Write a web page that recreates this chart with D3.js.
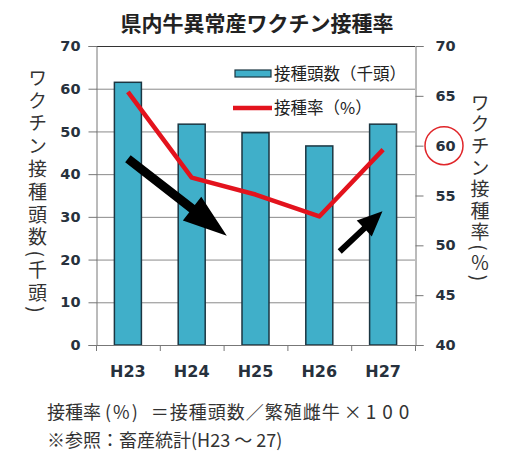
<!DOCTYPE html>
<html>
<head>
<meta charset="utf-8">
<script src="https://cdn.jsdelivr.net/npm/d3@7"></script>
<style>
  body { margin: 0; background: #fff; }
  svg { display: block; }
  .jp { font-family: "Noto Sans CJK JP", sans-serif; }
  .num { font-family: "DejaVu Sans", sans-serif; font-weight: bold; fill: #27313d; }
</style>
</head>
<body>
<svg id="chart" width="512" height="451"></svg>
<script>
// data
const years = ['H23', 'H24', 'H25', 'H26', 'H27'];
const headCount = [61.5, 51.7, 49.7, 46.6, 51.7]; // 接種頭数 (千頭)
const rate = [65.4, 56.8, 55.1, 52.9, 59.6];      // 接種率 (%)
const leftTicks = [0, 10, 20, 30, 40, 50, 60, 70];
const rightTicks = [40, 45, 50, 55, 60, 65, 70];
const circledTick = 60;

// annotation arrows as [category index, left axis value]
const arrowFrom = [[0, 43.6], [3.32, 21.9]];
const arrowTo = [[1.55, 25.6], [3.99, 31.3]];

const svg = d3.select('#chart');
const plotL = 96, plotR = 415, plotT = 46, plotB = 345;

const x = d3.scaleBand().domain(years).range([plotL, plotR]).paddingInner(0).paddingOuter(0);
const yL = d3.scaleLinear().domain([0, 70]).range([plotB, plotT]);
const yR = d3.scaleLinear().domain([40, 70]).range([plotB, plotT]);
const xIdx = (i) => x(years[0]) + x.bandwidth() / 2 + i * x.step();

// title
svg.append('text')
  .attr('class', 'jp')
  .attr('x', 257).attr('y', 31)
  .attr('text-anchor', 'middle')
  .attr('font-size', 21).attr('font-weight', 'bold').attr('fill', '#222')
  .text('県内牛異常産ワクチン接種率');

// gridlines
svg.append('g')
  .selectAll('line')
  .data(leftTicks.filter((d) => d > 0))
  .join('line')
  .attr('x1', plotL).attr('x2', plotR)
  .attr('y1', (d) => yL(d) + 0.5).attr('y2', (d) => yL(d) + 0.5)
  .attr('stroke', (d) => (d === 70 ? '#333' : '#8a8a8a'))
  .attr('stroke-width', 1);

// left axis
const gL = svg.append('g').attr('transform', `translate(${plotL + 0.5},0)`)
  .call(d3.axisLeft(yL).tickValues(leftTicks).tickSize(8).tickPadding(8));
gL.select('.domain').attr('stroke', '#777');
gL.selectAll('.tick line').attr('stroke', '#777');
gL.selectAll('.tick text').attr('class', 'num').attr('font-size', 14.5);

// right axis
const gR = svg.append('g').attr('transform', `translate(${plotR + 0.5},0)`)
  .call(d3.axisRight(yR).tickValues(rightTicks).tickSize(8).tickPadding(12));
gR.select('.domain').attr('stroke', '#777');
gR.selectAll('.tick line').attr('stroke', '#777');
gR.selectAll('.tick text').attr('class', 'num').attr('font-size', 14.5);

// bars
const barW = 27;
svg.append('g')
  .selectAll('rect')
  .data(years)
  .join('rect')
  .attr('x', (d) => x(d) + x.bandwidth() / 2 - barW / 2)
  .attr('y', (d, i) => yL(headCount[i]))
  .attr('width', barW)
  .attr('height', (d, i) => yL(0) - yL(headCount[i]))
  .attr('fill', '#40afc9')
  .attr('stroke', '#1b3642')
  .attr('stroke-width', 1.5);

// x axis line and boundary ticks
svg.append('line')
  .attr('x1', plotL).attr('x2', plotR + 8)
  .attr('y1', plotB + 0.5).attr('y2', plotB + 0.5)
  .attr('stroke', '#777');
svg.append('g')
  .selectAll('line')
  .data(years.map((d) => x(d)).concat([plotR]))
  .join('line')
  .attr('x1', (d) => d + 0.5).attr('x2', (d) => d + 0.5)
  .attr('y1', plotB).attr('y2', plotB + 6)
  .attr('stroke', '#777');
svg.append('g')
  .selectAll('text')
  .data(years)
  .join('text')
  .attr('class', 'num')
  .attr('font-size', 16)
  .attr('x', (d) => x(d) + x.bandwidth() / 2)
  .attr('y', 377)
  .attr('text-anchor', 'middle')
  .text((d) => d);

// rate line
const line = d3.line()
  .x((d, i) => x(years[i]) + x.bandwidth() / 2)
  .y((d) => yR(d));
svg.append('path')
  .datum(rate)
  .attr('d', line)
  .attr('fill', 'none')
  .attr('stroke', '#e3131d')
  .attr('stroke-width', 4.5)
  .attr('stroke-linejoin', 'round');

// arrows
function arrowPath(t, p, w, len, half) {
  const dx = p[0] - t[0], dy = p[1] - t[1];
  const d = Math.hypot(dx, dy);
  const ux = dx / d, uy = dy / d, nx = -uy, ny = ux;
  const bx = p[0] - ux * len, by = p[1] - uy * len;
  const pts = [
    [t[0] + nx * w / 2, t[1] + ny * w / 2],
    [bx + nx * w / 2, by + ny * w / 2],
    [bx + nx * half, by + ny * half],
    p,
    [bx - nx * half, by - ny * half],
    [bx - nx * w / 2, by - ny * w / 2],
    [t[0] - nx * w / 2, t[1] - ny * w / 2],
  ];
  return 'M' + pts.map((q) => q.join(',')).join('L') + 'Z';
}
const arrowSizes = [[9, 44, 15], [6, 25, 11]];
arrowFrom.forEach((f, i) => {
  const t = [xIdx(f[0]), yL(f[1])];
  const p = [xIdx(arrowTo[i][0]), yL(arrowTo[i][1])];
  svg.append('path')
    .attr('d', arrowPath(t, p, ...arrowSizes[i]))
    .attr('fill', '#000');
});

// legend
svg.append('rect')
  .attr('x', 235).attr('y', 70).attr('width', 36).attr('height', 7)
  .attr('fill', '#40afc9').attr('stroke', '#1b3642').attr('stroke-width', 1.2);
svg.append('text').attr('class', 'jp')
  .attr('x', 274).attr('y', 79.5).attr('font-size', 16.5).attr('fill', '#222')
  .text('接種頭数（千頭）');
svg.append('line')
  .attr('x1', 233).attr('x2', 272).attr('y1', 108).attr('y2', 108)
  .attr('stroke', '#e3131d').attr('stroke-width', 4.5);
svg.append('text').attr('class', 'jp')
  .attr('x', 274).attr('y', 114).attr('font-size', 16.5).attr('fill', '#222')
  .text('接種率（%）');

// axis titles (vertical)
svg.append('text').attr('class', 'jp')
  .attr('x', 37.5).attr('y', 68)
  .attr('font-size', 19).attr('fill', '#333')
  .style('writing-mode', 'vertical-rl')
  .style('letter-spacing', '3.8px')
  .text('ワクチン接種頭数(千頭)');
svg.append('text').attr('class', 'jp')
  .attr('x', 480).attr('y', 93)
  .attr('font-size', 19).attr('fill', '#333')
  .style('writing-mode', 'vertical-rl')
  .style('letter-spacing', '2.6px')
  .text('ワクチン接種率(％)');

// red circle on the right tick
svg.append('circle')
  .attr('cx', plotR + 29).attr('cy', yR(circledTick))
  .attr('r', 19)
  .attr('fill', 'none')
  .attr('stroke', '#e0262a')
  .attr('stroke-width', 1.5);

// footnotes
const note1 = svg.append('text').attr('class', 'jp')
  .attr('x', 47).attr('y', 419).attr('font-size', 18).attr('fill', '#333');
note1.append('tspan').text('接種率');
note1.append('tspan').attr('dx', 4).style('letter-spacing', '2px').text('(%)');
note1.append('tspan').attr('dx', 11).style('letter-spacing', '1px').text('＝接種頭数／繁殖雌牛');
note1.append('tspan').attr('dx', 3).text('×');
note1.append('tspan').attr('dx', 4).attr('font-size', 19).style('letter-spacing', '6px').text('100');
svg.append('text').attr('class', 'jp')
  .attr('x', 47).attr('y', 447).attr('font-size', 18).attr('fill', '#333')
  .text('※参照：畜産統計(H23 ～ 27)');
</script>
</body>
</html>
